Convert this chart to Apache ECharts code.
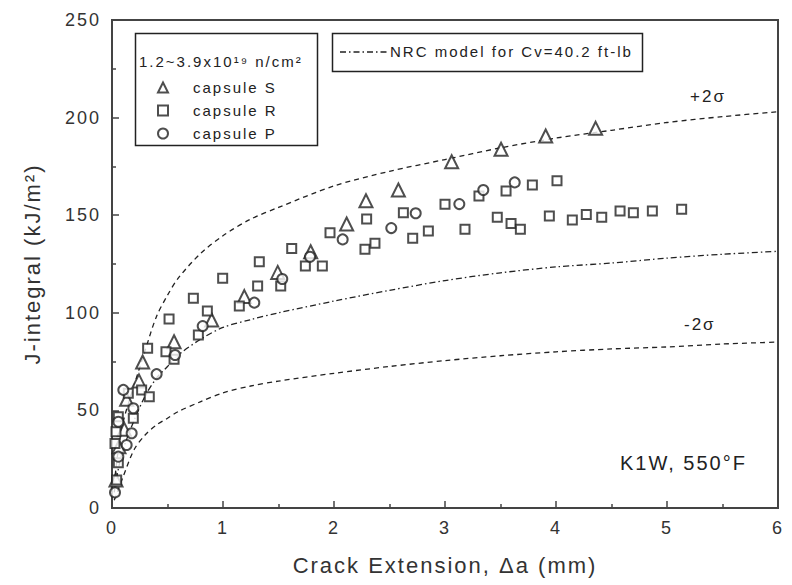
<!DOCTYPE html>
<html>
<head>
<meta charset="utf-8">
<script src="https://cdn.jsdelivr.net/npm/echarts@6/dist/echarts.min.js"></script>
<style>
  html, body { margin: 0; padding: 0; background: #fff; }
  #chart { width: 792px; height: 585px; letter-spacing: 2px; }
</style>
</head>
<body>
<div id="chart"></div>
<script>
// J-R curve data, K1W weld at 550°F: crack extension (mm) vs J-integral (kJ/m²)
const capsuleS = [
  [0.036, 14.3], [0.063, 31.4], [0.111, 40.3], [0.132, 55.7], [0.243, 65.1],
  [0.276, 74.8], [0.559, 85.2], [0.898, 96.3], [1.192, 108.3], [1.493, 120.7],
  [1.79, 131.3], [2.114, 145.5], [2.288, 157.4], [2.58, 162.9], [3.06, 177.4],
  [3.505, 183.8], [3.907, 190.6], [4.357, 194.5]
];
const capsuleR = [
  [0.027, 33.1], [0.036, 39.1], [0.042, 14.3], [0.057, 23.2], [0.057, 46.8],
  [0.147, 58.8], [0.192, 46.0], [0.267, 60.5], [0.321, 81.8], [0.336, 57.0],
  [0.486, 80.1], [0.514, 96.8], [0.559, 76.2], [0.733, 107.4], [0.778, 88.6],
  [0.859, 100.9], [0.997, 117.7], [1.147, 103.5], [1.312, 113.7], [1.327, 126.2],
  [1.52, 113.7], [1.619, 133.0], [1.742, 124.0], [1.895, 124.0], [1.964, 141.0],
  [2.279, 132.5], [2.294, 148.1], [2.369, 135.6], [2.625, 151.3], [2.709, 138.2],
  [2.85, 141.9], [3.0, 155.6], [3.18, 142.8], [3.306, 159.8], [3.471, 148.9],
  [3.55, 162.4], [3.595, 145.8], [3.679, 142.8], [3.787, 165.5], [3.94, 149.6],
  [4.009, 167.7], [4.147, 147.5], [4.273, 150.4], [4.412, 148.9], [4.577, 152.2],
  [4.697, 151.3], [4.868, 152.2], [5.132, 153.0]
];
const capsuleP = [
  [0.027, 8.0], [0.057, 26.3], [0.057, 44.2], [0.102, 60.5], [0.132, 32.3],
  [0.177, 38.3], [0.192, 51.1], [0.402, 68.6], [0.568, 78.4], [0.817, 93.2],
  [1.282, 105.2], [1.534, 117.3], [1.784, 128.7], [2.078, 137.6], [2.516, 143.4],
  [2.736, 151.0], [3.129, 155.7], [3.345, 162.9], [3.628, 166.8]
];

// NRC model curve (Cv = 40.2 ft-lb) and its ±2σ bounds
const modelDa    = [0.02, 0.05, 0.1, 0.2, 0.3, 0.4, 0.5, 0.6, 0.8, 1.0, 1.25, 1.5, 2.0, 2.5, 3.0, 3.5, 4.0, 4.5, 5.0, 5.5, 6.0];
const modelMean  = [8, 18, 30, 45, 57.5, 66.5, 72.5, 78.5, 86.5, 92.5, 96.5, 100, 106, 111.5, 116.5, 120.5, 123.5, 125.5, 128, 130, 131.5];
const modelUpper = [12, 27, 44, 63, 81, 98, 109, 118, 130.5, 139.5, 148, 154, 165, 172.5, 178.5, 184.5, 189.5, 193.5, 197.5, 200.5, 203];
const modelLower = [4, 8.5, 16, 30, 37.5, 42.5, 46, 49.5, 54.5, 59, 62.5, 65, 69, 72.5, 75.5, 78, 80, 81.5, 82.5, 84, 85];

const xTicks = { min: 0, max: 6, interval: 1 };
const yTicks = { min: 0, max: 250, interval: 50 };

const pair = (xs, ys) => xs.map((x, i) => [x, ys[i]]);

const INK = '#222';
const FONT = '"Liberation Sans", Arial, sans-serif';

const chart = echarts.init(document.getElementById('chart'), null, { renderer: 'svg' });

const axisCommon = {
  axisLine: { show: true, lineStyle: { color: '#444', width: 2 } },
  axisTick: { show: true, inside: true, length: 7, lineStyle: { color: '#444', width: 1.5 } },
  minorTick: { show: true, splitNumber: 2, length: 4, lineStyle: { color: '#444', width: 1.5 } },
  splitLine: { show: false },
  axisLabel: { color: '#333', fontFamily: FONT, fontSize: 18, margin: 11 },
  nameTextStyle: { color: '#333', fontFamily: FONT, fontSize: 22 }
};

chart.setOption({
  animation: false,
  backgroundColor: '#fff',
  grid: { left: 112, right: 14, top: 20, bottom: 77, show: true, borderColor: '#444', borderWidth: 2 },
  xAxis: Object.assign({}, axisCommon, {
    type: 'value', min: xTicks.min, max: xTicks.max, interval: xTicks.interval,
    name: 'Crack Extension, Δa (mm)', nameLocation: 'middle', nameGap: 46
  }),
  yAxis: Object.assign({}, axisCommon, {
    type: 'value', min: yTicks.min, max: yTicks.max, interval: yTicks.interval,
    name: 'J-integral (kJ/m²)', nameLocation: 'middle', nameGap: 69
  }),
  legend: {
    orient: 'vertical', left: 152, top: 75, itemGap: 8,
    itemWidth: 10, itemHeight: 10, z: 12,
    data: ['capsule S', 'capsule R', 'capsule P'],
    textStyle: { color: '#222', fontFamily: FONT, fontSize: 15, lineHeight: 14, padding: [0, 0, 0, 20] }
  },
  series: [
    { name: 'capsule S', type: 'scatter', symbol: 'emptyTriangle', symbolSize: 13,
      itemStyle: { color: INK, borderWidth: 1.3 }, data: capsuleS, z: 5 },
    { name: 'capsule R', type: 'scatter', symbol: 'emptyRect', symbolSize: 9,
      itemStyle: { color: INK, borderWidth: 1.3 }, data: capsuleR, z: 5 },
    { name: 'capsule P', type: 'scatter', symbol: 'emptyCircle', symbolSize: 10,
      itemStyle: { color: INK, borderWidth: 1.3 }, data: capsuleP, z: 5 },
    { name: 'NRC model', type: 'line', smooth: 0.3, symbol: 'none', data: pair(modelDa, modelMean),
      lineStyle: { color: INK, width: 1.3, type: [6, 3, 1.5, 3] }, z: 3 },
    { name: '+2σ', type: 'line', smooth: 0.3, symbol: 'none', data: pair(modelDa, modelUpper),
      lineStyle: { color: INK, width: 1.3, type: [5, 4] }, z: 3 },
    { name: '-2σ', type: 'line', smooth: 0.3, symbol: 'none', data: pair(modelDa, modelLower),
      lineStyle: { color: INK, width: 1.3, type: [5, 4] }, z: 3 }
  ],
  graphic: [
    // legend frame with fluence range
    { type: 'rect', left: 133, top: 31, shape: { width: 182, height: 112 },
      style: { fill: 'none', stroke: '#222', lineWidth: 1.5 }, z: 10 },
    { type: 'text', left: 139, top: 54, z: 11,
      style: { text: '1.2~3.9x10¹⁹ n/cm²', fill: '#222', font: '15px ' + FONT } },
    // model key
    { type: 'rect', left: 330, top: 31, shape: { width: 310, height: 38 },
      style: { fill: 'none', stroke: '#222', lineWidth: 1.5 }, z: 10 },
    { type: 'line', shape: { x1: 340, y1: 52, x2: 387, y2: 52 }, z: 11,
      style: { stroke: '#222', lineWidth: 1.3, lineDash: [6, 3, 1.5, 3] } },
    { type: 'text', left: 390, top: 44, z: 11,
      style: { text: 'NRC model for Cv=40.2 ft-lb', fill: '#222', font: '15px ' + FONT } },
    // curve annotations
    { type: 'text', left: 690, top: 88, style: { text: '+2σ', fill: '#222', font: '17px ' + FONT } },
    { type: 'text', left: 684, top: 316, style: { text: '-2σ', fill: '#222', font: '17px ' + FONT } },
    { type: 'text', left: 620, top: 453, style: { text: 'K1W, 550°F', fill: '#222', font: '20px ' + FONT } }
  ]
});
</script>
</body>
</html>
